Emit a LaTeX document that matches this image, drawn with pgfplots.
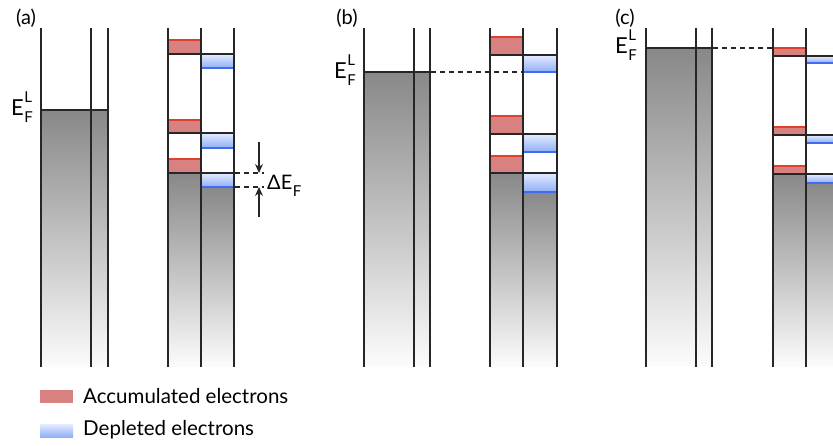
\documentclass[border=0pt]{standalone}
\usepackage{pgfplots}
\pgfplotsset{compat=1.18}
\usepackage{fontspec}
\setmainfont{Lato}
\usetikzlibrary{arrows.meta}
\definecolor{lineC}{HTML}{262626}
\definecolor{grayTop}{HTML}{888888}
\definecolor{grayBot}{HTML}{FCFCFC}
\definecolor{redFill}{HTML}{D98080}
\definecolor{redLine}{HTML}{E0402E}
\definecolor{blueTop}{HTML}{E4ECFF}
\definecolor{blueBot}{HTML}{8EAEF6}
\definecolor{blueLine}{HTML}{3F6CF0}
\newcommand{\rect}[5]{\addplot[#1] coordinates {(#2,#3) (#4,#3) (#4,#5) (#2,#5)} -- cycle;}
\newcommand{\hl}[4]{\addplot[#1] coordinates {(#2,#4) (#3,#4)};}
\newcommand{\vl}[1]{\addplot[lineC, line width=1.5pt, mark=none] coordinates {(#1,28) (#1,367)};}
\newcommand{\EFL}{\fontsize{22}{24}\selectfont E\rlap{\raisebox{13pt}{\fontsize{15}{16}\selectfont\kern0.5pt L}}\raisebox{-7pt}{\fontsize{15}{16}\selectfont\kern0.5pt F}}
\tikzset{
  gfill/.style={draw=none, mark=none, top color=grayTop, bottom color=grayBot},
  rfill/.style={draw=none, mark=none, fill=redFill},
  bfill/.style={draw=none, mark=none, top color=blueTop, bottom color=blueBot},
  rl/.style={redLine, line width=1.3pt, mark=none},
  bl/.style={blueLine, line width=1.3pt, mark=none},
  kl/.style={lineC, line width=1.4pt, mark=none},
  dl/.style={lineC, line width=1.1pt, mark=none, dash pattern=on 5pt off 4pt},
}
\begin{document}
\begin{tikzpicture}
\begin{axis}[x=1pt, y=1pt, y dir=reverse, xmin=0, xmax=833, ymin=0, ymax=446,
  hide axis, clip=true]
\addplot[draw=none, mark=none] coordinates {(0,0) (833,446)};
% ---------------- panel (a)
\rect{gfill}{41}{110}{108}{367}
\rect{gfill}{168}{173}{201}{367}
\rect{gfill}{201}{187}{234}{367}
\rect{rfill}{168}{40}{201}{54}
\rect{rfill}{168}{120}{201}{133}
\rect{rfill}{168}{159}{201}{173}
\rect{bfill}{201}{54}{234}{68}
\rect{bfill}{201}{133}{234}{148}
\rect{bfill}{201}{173}{234}{187}
\hl{rl}{168}{201}{40}
\hl{rl}{168}{201}{120}
\hl{rl}{168}{201}{159}
\hl{bl}{201}{234}{68}
\hl{bl}{201}{234}{148}
\hl{bl}{201}{234}{187}
\hl{kl}{41}{108}{110}
\hl{kl}{168}{234}{54}
\hl{kl}{168}{234}{133}
\hl{kl}{168}{234}{173}
\vl{41}\vl{91}\vl{108}\vl{168}\vl{201}\vl{234}
\hl{dl}{235}{264}{173}
\hl{dl}{235}{264}{187}
\addplot[lineC, line width=1.2pt, mark=none, -{Stealth[length=9pt,width=8pt]}] coordinates {(259,142) (259,173)};
\addplot[lineC, line width=1.2pt, mark=none, -{Stealth[length=9pt,width=8pt]}] coordinates {(259,217) (259,187)};
% ---------------- panel (b)
\rect{gfill}{364}{72}{430}{367}
\rect{gfill}{490}{173}{523}{367}
\rect{gfill}{523}{192}{557}{367}
\rect{rfill}{490}{37}{523}{55}
\rect{rfill}{490}{116}{523}{134}
\rect{rfill}{490}{156}{523}{173}
\rect{bfill}{523}{55}{557}{72}
\rect{bfill}{523}{134}{557}{152}
\rect{bfill}{523}{173}{557}{192}
\hl{rl}{490}{523}{37}
\hl{rl}{490}{523}{116}
\hl{rl}{490}{523}{156}
\hl{bl}{523}{557}{72}
\hl{bl}{523}{557}{152}
\hl{bl}{523}{557}{192}
\hl{kl}{364}{430}{72}
\hl{kl}{490}{557}{55}
\hl{kl}{490}{557}{134}
\hl{kl}{490}{557}{173}
\hl{dl}{431}{523}{72}
\vl{364}\vl{414}\vl{430}\vl{490}\vl{523}\vl{557}
% ---------------- panel (c)
\rect{gfill}{646}{48}{712}{367}
\rect{gfill}{773}{174}{806}{367}
\rect{gfill}{806}{183}{833}{367}
\rect{rfill}{773}{48}{806}{56}
\rect{rfill}{773}{127}{806}{135}
\rect{rfill}{773}{166}{806}{174}
\rect{bfill}{806}{56}{833}{63}
\rect{bfill}{806}{135}{833}{143}
\rect{bfill}{806}{174}{833}{183}
\hl{rl}{773}{806}{48}
\hl{rl}{773}{806}{127}
\hl{rl}{773}{806}{166}
\hl{bl}{806}{833}{63}
\hl{bl}{806}{833}{143}
\hl{bl}{806}{833}{183}
\hl{kl}{646}{712}{48}
\hl{kl}{773}{833}{56}
\hl{kl}{773}{833}{135}
\hl{kl}{773}{833}{174}
\hl{dl}{713}{773}{48}
\vl{646}\vl{696}\vl{712}\vl{773}\vl{806}
% ---------------- legend boxes
\rect{rfill}{40}{390}{73}{403}
\rect{bfill}{40}{424}{73}{437}
% ---------------- texts
\node[font=\fontsize{20}{24}\selectfont] at (axis cs:26,18) {(a)};
\node[font=\fontsize{20}{24}\selectfont] at (axis cs:347,18) {(b)};
\node[font=\fontsize{20}{24}\selectfont] at (axis cs:625,18) {(c)};
\node[anchor=base east, inner sep=0pt] at (axis cs:33,116) {\EFL};
\node[anchor=base east, inner sep=0pt] at (axis cs:356,79) {\EFL};
\node[anchor=base east, inner sep=0pt] at (axis cs:637,54) {\EFL};
\node[anchor=base west, inner sep=0pt, font=\fontsize{20}{24}\selectfont] at (axis cs:267,190) {ΔE\raisebox{-7pt}{\fontsize{15}{16}\selectfont\kern0.5pt F}};
\node[anchor=west, inner sep=0pt, font=\fontsize{20.5}{22}\selectfont] at (axis cs:83,396) {Accumulated electrons};
\node[anchor=west, inner sep=0pt, font=\fontsize{20.5}{22}\selectfont] at (axis cs:83,430) {Depleted electrons};
\end{axis}
\end{tikzpicture}
\end{document}
